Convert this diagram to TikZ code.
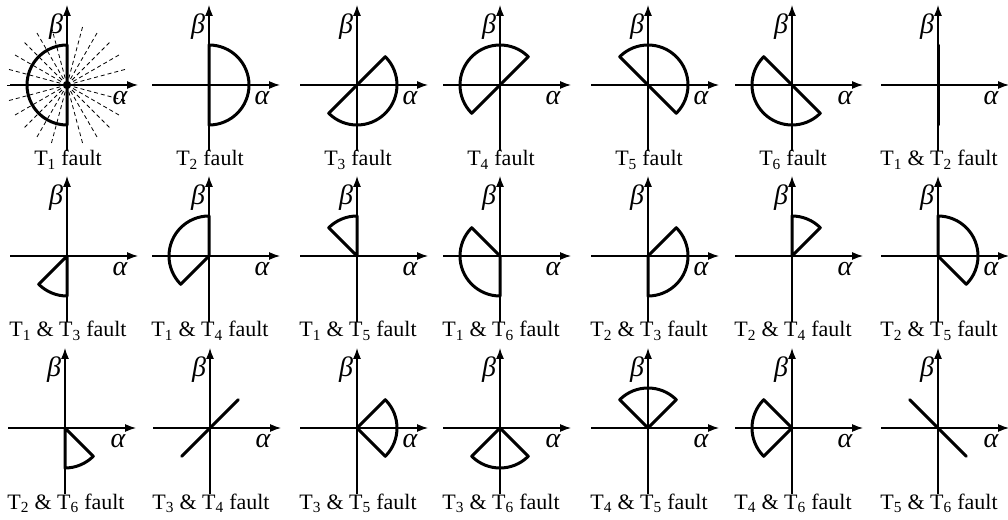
\documentclass[tikz,border=0pt]{standalone}
\usepackage{fontspec}
\setmainfont{Liberation Serif}
\usetikzlibrary{arrows.meta,calc}

\newcommand{\rad}{40}
% sector between two angles, semicircle, and a thick diameter
\newcommand{\sect}[3]{\draw[flt] (#1) -- ++(#2:\rad) arc[start angle=#2, end angle=#3, radius=\rad] -- cycle;}
\newcommand{\semi}[2]{\draw[flt] (#1) ++(#2:\rad) arc[start angle=#2, end angle=#2+180, radius=\rad] -- cycle;}
\newcommand{\diam}[2]{\draw[flt] (#1) ++(#2:\rad) -- ++(#2+180:2*\rad);}

\begin{document}
\begin{tikzpicture}[
  x=1pt, y=1pt,
  ax/.style={line width=1.2pt, -{Latex[length=11pt, width=8pt]}},
  flt/.style={line width=3pt, line join=round, line cap=round},
  ray/.style={line width=0.8pt, dash pattern=on 4pt off 3pt},
  lbl/.style={anchor=base, font=\fontsize{22}{24}\selectfont, inner sep=0pt},
  grk/.style={font=\fontsize{28}{30}\selectfont\itshape, inner sep=0pt}
]
\useasboundingbox (0,0) rectangle (1008,519);

% panel origins and their captions
\foreach \n/\cx/\cy/\txt in {
  1/67/434/{T\textsubscript{1} fault},
  2/209/434/{T\textsubscript{2} fault},
  3/357/434/{T\textsubscript{3} fault},
  4/500/434/{T\textsubscript{4} fault},
  5/648/434/{T\textsubscript{5} fault},
  6/792/434/{T\textsubscript{6} fault},
  7/938/434/{T\textsubscript{1} \& T\textsubscript{2} fault},
  8/67/263/{T\textsubscript{1} \& T\textsubscript{3} fault},
  9/209/263/{T\textsubscript{1} \& T\textsubscript{4} fault},
  10/357/263/{T\textsubscript{1} \& T\textsubscript{5} fault},
  11/500/263/{T\textsubscript{1} \& T\textsubscript{6} fault},
  12/648/263/{T\textsubscript{2} \& T\textsubscript{3} fault},
  13/792/263/{T\textsubscript{2} \& T\textsubscript{4} fault},
  14/938/263/{T\textsubscript{2} \& T\textsubscript{5} fault},
  15/65/91/{T\textsubscript{2} \& T\textsubscript{6} fault},
  16/210/91/{T\textsubscript{3} \& T\textsubscript{4} fault},
  17/357/91/{T\textsubscript{3} \& T\textsubscript{5} fault},
  18/500/91/{T\textsubscript{3} \& T\textsubscript{6} fault},
  19/648/91/{T\textsubscript{4} \& T\textsubscript{5} fault},
  20/792/91/{T\textsubscript{4} \& T\textsubscript{6} fault},
  21/938/91/{T\textsubscript{5} \& T\textsubscript{6} fault}}{
  \coordinate (o\n) at (\cx,\cy);
  \coordinate (xl\n) at (\cx-57,\cy);
  \coordinate (xr\n) at (\cx+71,\cy);
  \coordinate (yb\n) at (\cx,\cy-66);
  \coordinate (yt\n) at (\cx,\cy+80);
  \draw[ax] (xl\n) -- (xr\n);
  \draw[ax] (yb\n) -- (yt\n);
  \node[grk] (al\n) at (\cx+53,\cy-13) {α};
  \node[grk] (be\n) at (\cx-11,\cy+58) {β};
  \node[lbl] (cap\n) at (\cx+1,\cy-81) {\txt};
}

% dashed rays of the first panel
\foreach \a in {0,15,...,345}
  \draw[ray] (o1) -- ++(\a:60);

% row 1
\semi{o1}{90}
\semi{o2}{-90}
\semi{o3}{-135}
\semi{o4}{45}
\semi{o5}{-45}
\semi{o6}{135}
\diam{o7}{90}
% row 2
\sect{o8}{225}{270}
\sect{o9}{90}{225}
\sect{o10}{90}{135}
\sect{o11}{135}{270}
\sect{o12}{-90}{45}
\sect{o13}{45}{90}
\sect{o14}{-45}{90}
% row 3
\sect{o15}{-90}{-45}
\diam{o16}{45}
\sect{o17}{-45}{45}
\sect{o18}{225}{315}
\sect{o19}{45}{135}
\sect{o20}{135}{225}
\diam{o21}{135}
\end{tikzpicture}
\end{document}
